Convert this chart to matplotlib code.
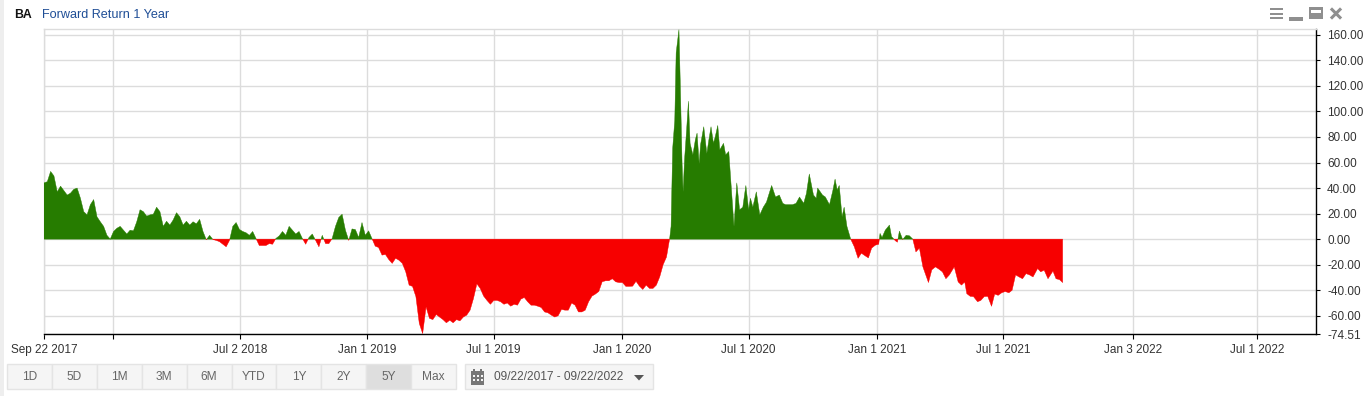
import matplotlib
matplotlib.use("Agg")
import matplotlib.pyplot as plt
import matplotlib.dates as mdates
from matplotlib.patches import Rectangle, Polygon
import numpy as np
import pandas as pd

plt.rcParams["font.family"] = ["Liberation Sans", "DejaVu Sans"]

GREEN = "#267c00"
RED = "#f70000"
GRID = "#dcdcdc"

# the source axis runs on trading days, so the first date sits 2 days into the calendar fit
start = pd.Timestamp("2017-09-24")
end = pd.Timestamp("2022-09-23")

# forward return, sep 2017 to mid jan 2019 (evenly spaced)
ret_2017_18 = [
    44, 45, 53, 49.5, 37, 41.5, 38, 34.5, 36, 39, 40, 32, 21.5, 19, 27, 31, 17.5, 13.6, 10, 3,
    0, 6, 8.5, 10, 7, 4, 7, 6.5, 13.6, 23, 21.5, 18, 19, 19.5, 25, 21.5, 10, 14, 11, 15,
    20.7, 17.5, 11, 14, 11, 13.6, 12, 15.5, 6, -0.5, 3, -0.3, -1, -2, -4, -6, -1, 10, 13, 7.6,
    6, 5, 3, 6, 0.5, -5, -5, -5, -3.5, -4, 0.5, 2.5, 6, 3, 10, 7, 4, 6, 0.5, -4,
    1.3, 4, -1, -6, 3, -3.5, -3.5, 0.5, 10, 17, 19.5, 7, -1, 8, 7.5, 1.3, 13, 3, 6.5, 0.5,
    -5.5, -6.5,
]
# jan 2019 to the covid low (evenly spaced)
ret_2019 = [
    -12.5, -12, -16, -19, -15, -16.5, -19, -25.6, -36, -37, -45, -66, -74, -53, -62, -63, -59, -61, -63, -65.5,
    -63.5, -65.5, -63, -64, -61, -59.5, -55.6, -46.5, -35, -38.6, -44.6, -48, -51, -48, -48, -49, -51, -50, -52.5, -51,
    -51.7, -47, -45.7, -49, -51.7, -51.7, -52.5, -53.5, -57, -57.7, -59.5, -61, -60, -55, -55.6, -55.6, -50, -51.7, -57, -57,
    -55.6, -49, -44.6, -43, -41, -33.4, -32.6, -32.6, -31, -33.4, -34, -34, -37, -37, -36.8, -33, -36.8, -39.4, -36, -38.6,
    -38.6, -36, -29.5, -20, -14, -1,
]
# days since the first date, rebound in 2020
days_2020 = [
    897.7, 899.7, 902, 905, 907, 911, 913, 915.5, 917, 919, 922, 924.6, 927, 931, 934.6, 937, 940, 942,
    946.6, 951, 954, 957, 960.5, 963, 966.7, 969.6, 975, 978, 982.5, 986, 990, 994, 998, 1002.6, 1007, 1011,
    1013.6, 1017, 1022, 1027, 1032, 1036.6, 1044, 1049.6, 1055, 1060, 1064, 1069, 1074, 1079, 1084, 1090, 1094, 1098,
    1104, 1108, 1110, 1117, 1121, 1127, 1132, 1135, 1138, 1141, 1145, 1148, 1152,
]
ret_2020 = [
    0.5, 10, 71, 93, 146, 164, 120, 59, 37, 62, 85.6, 108, 75, 66, 78, 83, 59, 74,
    88, 67, 78, 88, 75, 80, 89, 70, 75, 66, 68.6, 41, 10, 44, 23, 25, 42, 23,
    32, 25, 37, 19, 25, 29, 42, 33, 34.5, 28, 27, 27, 27, 28, 33, 28, 36, 51,
    34.5, 32, 40, 34.5, 33, 27, 38.5, 47, 38.5, 42, 17.5, 25, 10,
]
# days since the first date, last stretch up to sep 2021
days_2021 = [
    1157.4, 1162.6, 1168, 1172.7, 1178, 1182.8, 1187.5, 1192.8, 1197.6, 1199.5, 1202.4, 1207, 1213, 1216, 1221.6, 1224.4,
    1227.3, 1232, 1237, 1241.7, 1246.5, 1251, 1256, 1261, 1269, 1273.8, 1279, 1284, 1289, 1294, 1299, 1306,
    1311.6, 1316.4, 1321, 1324, 1329, 1333.6, 1339.4, 1344, 1349, 1354, 1359.5, 1364, 1369, 1374, 1379, 1384.4,
    1389, 1394, 1399, 1404, 1409, 1414, 1419, 1425.6, 1430, 1435, 1440.5, 1447.6, 1452, 1457, 1461.5,
]
ret_2021 = [
    0, -6, -15, -11, -13, -14.7, -7, -4.7, -4, 4.5, 1.3, 7, 11, 2, -1.3, -2.4,
    6.3, -0.3, 3, 2.6, 0, -10, -7, -21.7, -34, -24, -21.7, -23.5, -25.6, -31, -28, -21.7,
    -33.5, -36, -33.5, -42.7, -44.8, -45, -49, -48, -45, -44.8, -52.6, -43, -44, -42, -41, -42,
    -40, -28, -29.6, -31, -27, -28, -29.6, -23, -25.6, -24.3, -31, -25, -31, -31.7, -34,
]

yticks = [160, 140, 120, 100, 80, 60, 40, 20, 0, -20, -40, -60, -74.51]
xtick_dates = ["2017-09-24", "2018-01-01", "2018-07-02", "2019-01-01", "2019-07-01", "2020-01-01",
               "2020-07-01", "2021-01-01", "2021-07-01", "2022-01-03", "2022-07-01"]
xtick_labels = ["Sep 22 2017", "", "Jul 2 2018", "Jan 1 2019", "Jul 1 2019", "Jan 1 2020",
                "Jul 1 2020", "Jan 1 2021", "Jul 1 2021", "Jan 3 2022", "Jul 1 2022"]
buttons = ["1D", "5D", "1M", "3M", "6M", "YTD", "1Y", "2Y", "5Y", "Max"]

days = np.concatenate([
    np.linspace(0, 480, len(ret_2017_18)),
    np.linspace(485, 898, len(ret_2019))[:-1],
    days_2020,
    days_2021,
])
vals = np.array(ret_2017_18 + ret_2019[:-1] + ret_2020 + ret_2021, dtype=float)
dates = mdates.date2num(start) + days

W, H = 1369, 396
fig = plt.figure(figsize=(W / 100, H / 100), dpi=100, facecolor="white")
ax = fig.add_axes([44.0 / W, 1 - 334.3 / H, (1316 - 44.0) / W, (334.3 - 29.3) / H])

ax.fill_between(dates, vals, 0, where=vals >= 0, interpolate=True, color=GREEN, lw=0.3, zorder=3)
ax.fill_between(dates, vals, 0, where=vals <= 0, interpolate=True, color=RED, lw=0.3, zorder=3)

ax.set_xlim(mdates.date2num(start), mdates.date2num(end))
ax.set_ylim(-74.51, 164.3)

ax.yaxis.tick_right()
ax.set_yticks(yticks)
ax.set_yticklabels(["%.2f" % v for v in yticks])
ax.set_xticks(mdates.date2num(pd.to_datetime(xtick_dates)))
ax.set_xticklabels(xtick_labels)
ax.tick_params(axis="both", labelsize=8.5, labelcolor="#333333", length=3.5, width=0.8)
ax.tick_params(axis="x", pad=3.5, color="black")
ax.tick_params(axis="y", pad=5, length=3, color="black")
ax.grid(True, color=GRID, lw=1, zorder=0)
ax.set_axisbelow(True)
for s in ["left", "top"]:
    ax.spines[s].set_color(GRID)
    ax.spines[s].set_linewidth(1)
for s in ["right", "bottom"]:
    ax.spines[s].set_color("black")
    ax.spines[s].set_linewidth(1)

# page furniture, in pixels
ui = fig.add_axes([0, 0, 1, 1], zorder=5)
ui.set_xlim(0, W)
ui.set_ylim(H, 0)
ui.axis("off")
ui.patch.set_alpha(0)

ui.add_patch(Rectangle((0, 0), 4, H, color="#eeeeee", lw=0))
ui.text(14.5, 15.5, "BA", fontsize=8.8, color="#111111", va="center", fontweight="bold")
ui.text(42, 15.5, "Forward Return 1 Year", fontsize=9.1, color="#1f4e96", va="center")

ICON = "#8f8f8f"
for y in [9, 13.5, 18]:
    ui.add_patch(Rectangle((1270, y - 1), 13, 2, color=ICON, lw=0))
ui.add_patch(Rectangle((1289, 17), 14, 3.5, color=ICON, lw=0))
ui.add_patch(Rectangle((1309, 7), 14, 12, color=ICON, lw=0))
ui.add_patch(Rectangle((1311, 9.5), 10, 3, color="white", lw=0))
ui.plot([1332, 1340], [9.5, 17.5], color=ICON, lw=2.2)
ui.plot([1332, 1340], [17.5, 9.5], color=ICON, lw=2.2)

bw = 44.9
for i, name in enumerate(buttons):
    x0 = 7 + i * bw
    fc = "#dedede" if name == "5Y" else "#f5f5f5"
    ui.add_patch(Rectangle((x0, 364), bw, 25, fc=fc, ec="#e4e4e4", lw=1))
    ui.text(x0 + bw / 2, 377, name, fontsize=8.6, color="#666666", ha="center", va="center")

ui.add_patch(Rectangle((465, 364), 187.5, 25, fc="#f5f5f5", ec="#e4e4e4", lw=1))
ui.add_patch(Rectangle((471, 371), 13, 14, color="#777777", lw=0))
ui.add_patch(Rectangle((473, 368.5), 2, 3, color="#777777", lw=0))
ui.add_patch(Rectangle((480, 368.5), 2, 3, color="#777777", lw=0))
for cx in [473, 477, 481]:
    for cy in [375, 379]:
        ui.add_patch(Rectangle((cx - 0.2, cy), 2.2, 2.2, color="#f5f5f5", lw=0))
ui.text(494, 377, "09/22/2017 - 09/22/2022", fontsize=8.6, color="#555555", va="center")
ui.add_patch(Polygon([(634, 375), (644, 375), (639, 380.5)], closed=True, color="#555555", lw=0))

fig.savefig("out.png", dpi=100)
